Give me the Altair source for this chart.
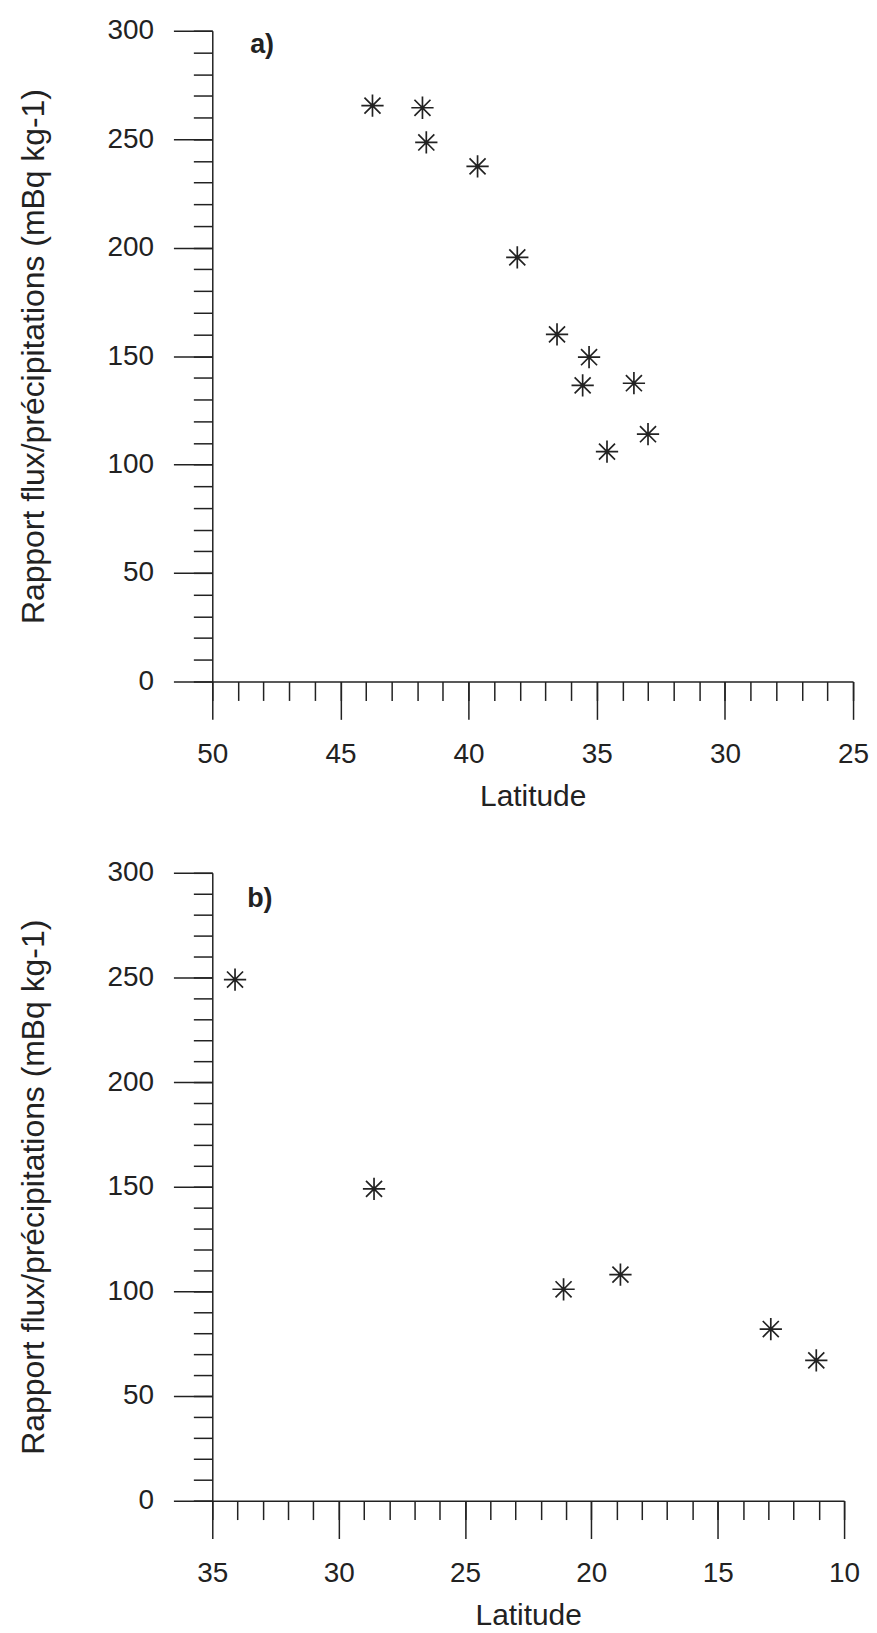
import altair as alt
import pandas as pd

# Panel a data (latitude, ratio flux/precipitation)
lat_a = [43.75, 41.8, 41.65, 39.65, 38.1, 36.55, 35.3, 35.55, 33.55, 34.6, 33.0]
val_a = [265.5, 264.5, 248.5, 237.5, 195.5, 160.0, 149.5, 136.5, 137.5, 106.0, 114.0]
# Panel b data
lat_b = [34.1, 28.6, 21.1, 18.85, 12.9, 11.1]
val_b = [249.0, 149.0, 101.0, 108.0, 82.0, 67.0]

y_major = [0, 50, 100, 150, 200, 250, 300]
y_minor = list(range(0, 301, 10))
xa_major = [25, 30, 35, 40, 45, 50]
xa_minor = list(range(25, 51))
xb_major = [10, 15, 20, 25, 30, 35]
xb_minor = list(range(10, 36))

y_title = "Rapport flux/précipitations (mBq kg-1)"
x_title = "Latitude"

STAR = "M-1,0L1,0M0,-1L0,1M-0.72,-0.72L0.72,0.72M-0.72,0.72L0.72,-0.72"
INK = "#222222"
FONT = "Liberation Sans"


def panel(lats, vals, xdom, xmaj, xmin, label, lx, ly, w, h):
    df = pd.DataFrame({"lat": lats, "val": vals})
    xs = alt.Scale(domain=xdom, reverse=True, nice=False, zero=False)
    ys = alt.Scale(domain=[0, 300], nice=False, zero=False)
    base = alt.Chart(df)
    major = base.mark_point(
        shape=STAR, size=500, strokeWidth=1.7, color=INK, filled=False, opacity=1
    ).encode(
        x=alt.X("lat:Q", scale=xs, axis=alt.Axis(
            orient="bottom", values=xmaj, tickSize=38, labelPadding=21,
            title=x_title, titlePadding=13, titleFontSize=30, grid=False)),
        y=alt.Y("val:Q", scale=ys, axis=alt.Axis(
            orient="left", values=y_major, tickSize=39, labelPadding=20,
            title=y_title, titlePadding=57, titleFontSize=32, grid=False)),
    )
    minor = base.mark_point(opacity=0).encode(
        x=alt.X("lat:Q", scale=xs, axis=alt.Axis(
            orient="bottom", values=xmin, tickSize=19, labels=False,
            domain=False, title=None, grid=False)),
        y=alt.Y("val:Q", scale=ys, axis=alt.Axis(
            orient="left", values=y_minor, tickSize=19, labels=False,
            domain=False, title=None, grid=False)),
    )
    txt = alt.Chart(pd.DataFrame({"t": [label]})).mark_text(
        align="left", baseline="middle", font=FONT, fontSize=27,
        fontWeight="bold", color=INK
    ).encode(text="t:N", x=alt.value(lx), y=alt.value(ly))
    return alt.layer(major, minor, txt).resolve_axis(
        x="independent", y="independent"
    ).properties(width=w, height=h)


pa = panel(lat_a, val_a, [25, 50], xa_major, xa_minor, "a)", 38, 14, 643, 653)
pb = panel(lat_b, val_b, [10, 35], xb_major, xb_minor, "b)", 35, 26, 634, 630)

chart = alt.vconcat(pa, pb, spacing=48, padding={"left": 9, "top": 6, "right": 0, "bottom": 0}).configure_view(
    stroke=None
).configure_axis(
    domainColor=INK, domainWidth=1.5, tickColor=INK, tickWidth=1.5,
    labelFont=FONT, labelFontSize=28, labelColor=INK,
    titleFont=FONT, titleFontWeight="normal", titleColor=INK,
    labelFlush=False, labelOverlap=False,
)

chart.save("out.html", embed_options={"renderer": "svg", "actions": False})
